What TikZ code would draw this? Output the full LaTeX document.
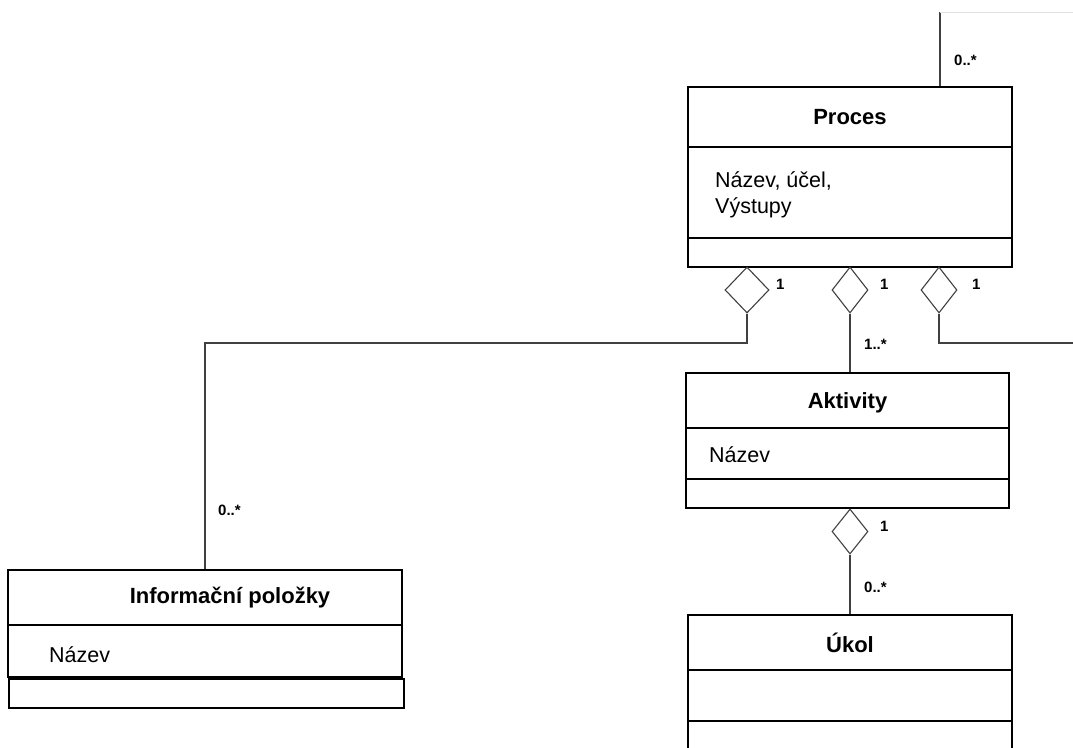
\documentclass[tikz,border=0pt]{standalone}
\usepackage{fontspec}
\setmainfont{Liberation Sans}
\usetikzlibrary{shapes.geometric}
\begin{document}
\begin{tikzpicture}[x=1pt,y=-1pt,
  classbox/.style={draw=black,line width=1.4pt,inner sep=0pt,rectangle},
  divider/.style={draw=black,line width=1.4pt},
  conn/.style={draw=black!75,line width=1.1pt},
  agg/.style={diamond,draw=black!75,line width=1.1pt,fill=white,inner sep=0pt,aspect=1},
  title/.style={font=\fontsize{22}{26}\selectfont\bfseries},
  attr/.style={font=\fontsize{21.5}{26}\selectfont,anchor=west,align=left,inner sep=0pt},
  mult/.style={font=\fontsize{15}{17}\selectfont\bfseries,anchor=west,inner sep=0pt}]
\useasboundingbox (0,0) rectangle (1073,747);
\clip (0,0) rectangle (1073,747);

% Proces
\node[classbox,minimum width=324pt,minimum height=180pt] (proc) at (850,177) {};
\draw[divider] (688,147) -- (1012,147);
\draw[divider] (688,238) -- (1012,238);
\node[title] (proct) at (850,117) {Proces};
\node[attr] (proca) at (715,195) {Název, účel,\\Výstupy};

% Aktivity
\node[classbox,minimum width=323pt,minimum height=135pt] (akt) at (847.5,440.5) {};
\draw[divider] (686,428) -- (1009,428);
\draw[divider] (686,479) -- (1009,479);
\node[title] (aktt) at (847.5,403) {Aktivity};
\node[attr] (akta) at (709,455) {Název};

% Ukol
\node[classbox,minimum width=324pt,minimum height=150pt] (ukol) at (850,690) {};
\draw[divider] (688,670) -- (1012,670);
\draw[divider] (688,721) -- (1012,721);
\node[title] (ukolt) at (850,643) {Úkol};

% Informacni polozky
\node[classbox,minimum width=394pt,minimum height=107pt] (info) at (205,623.5) {};
\draw[divider] (8,625) -- (402,625);
\node[classbox,minimum width=395pt,minimum height=29pt] (infob) at (206.5,693.5) {};
\node[title] (infot) at (230,598) {Informační položky};
\node[attr] (infoa) at (49,655) {Název};

% Diamonds
\node[agg,minimum width=44pt,minimum height=46pt] (d1) at (747,290) {};
\node[agg,minimum width=36pt,minimum height=46pt] (d2) at (850,290) {};
\node[agg,minimum width=36pt,minimum height=46pt] (d3) at (939,290) {};
\node[agg,minimum width=36pt,minimum height=45pt] (d4) at (850,531.5) {};

% connectors
\coordinate (topend) at (940,12);
\coordinate (rightend) at (1073,343);
\coordinate (bendl) at (747,343);
\draw[conn] (topend) -- (topend |- proc.north);
\draw[black!12,line width=1pt] (topend) -- (1073,12);
\draw[conn] (d1.south) -- (bendl) -| (info.north);
\draw[conn] (d2.south) -- (d2.south |- akt.north);
\draw[conn] (d3.south) |- (rightend);
\draw[conn] (d4.south) -- (ukol.north);

% multiplicities
\node[mult] (m1) at (954,60) {0..*};
\node[mult] (m2) at (776,284) {1};
\node[mult] (m3) at (880,284) {1};
\node[mult] (m4) at (972,284) {1};
\node[mult] (m5) at (864,344) {1..*};
\node[mult] (m6) at (218,510) {0..*};
\node[mult] (m7) at (880,526) {1};
\node[mult] (m8) at (864,587) {0..*};
\end{tikzpicture}
\end{document}
